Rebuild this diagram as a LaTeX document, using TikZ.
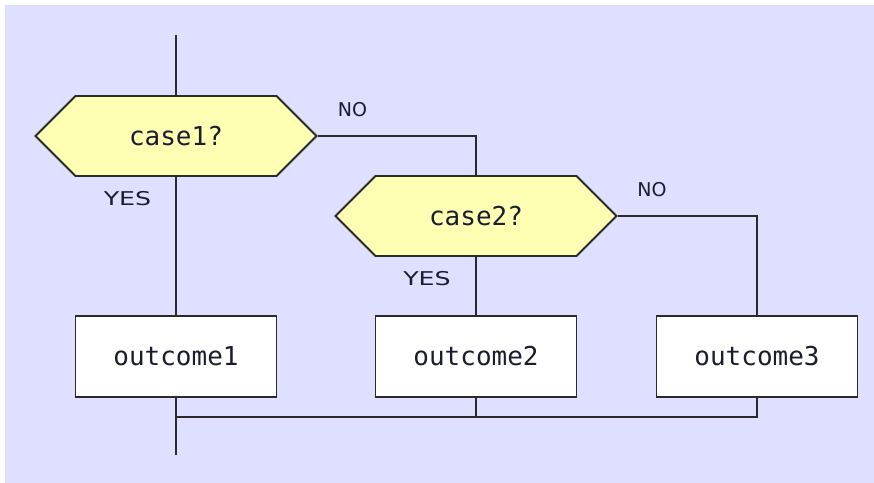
\documentclass[tikz,border=0pt]{standalone}
\usepackage{fontspec}
\usetikzlibrary{shapes.symbols}
\newfontfamily\boxfont{DejaVu Sans Mono}
\newfontfamily\lblfont{DejaVu Sans}
\definecolor{bgc}{HTML}{DFDFFF}
\definecolor{hexfill}{HTML}{FFFFB4}
\definecolor{linec}{HTML}{2A2A2A}
\definecolor{txtc}{HTML}{1C1C30}
\tikzset{
  conn/.style={draw=linec, line width=1.8pt},
  decision/.style={shape=signal, signal to=west and east, signal pointer angle=90,
    draw=linec, line width=1.8pt, fill=hexfill, minimum width=281pt, minimum height=80pt,
    inner sep=0pt, font=\boxfont\fontsize{26}{30}\selectfont, text=txtc},
  outcome/.style={rectangle, draw=linec, line width=1.8pt, fill=white,
    minimum width=201pt, minimum height=81pt, inner sep=0pt,
    font=\boxfont\fontsize{26}{30}\selectfont, text=txtc},
  lbl/.style={font=\lblfont\fontsize{19}{22}\selectfont, text=txtc, inner sep=0pt}
}
\begin{document}
\begin{tikzpicture}[x=1pt,y=-1pt]
\useasboundingbox (0,0) rectangle (874,482);
\fill[white] (-5,-5) rectangle (880,490);
\fill[bgc] (5,5) rectangle (880,490);
\node[decision] (c1) at (176,136) {case1?};
\node[decision] (c2) at (476,216) {case2?};
\node[outcome] (o1) at (176,356.5) {outcome1};
\node[outcome] (o2) at (476,356.5) {outcome2};
\node[outcome] (o3) at (757,356.5) {outcome3};
\coordinate (top) at (176,35);
\coordinate (bot) at (176,455);
\coordinate (merge) at (176,417);
\node[lbl] (yes1) at (127.5,199) {\scalebox{1.33}[1]{YES}};
\node[lbl] (yes2) at (427,279) {\scalebox{1.33}[1]{YES}};
\node[lbl] (no1) at (352.5,110) {NO};
\node[lbl] (no2) at (652,190) {NO};
\draw[conn] (top) -- (c1.north);
\draw[conn] (c1.south) -- (o1.north);
\draw[conn] (c1.east) -| (c2.north);
\draw[conn] (c2.south) -- (o2.north);
\draw[conn] (c2.east) -| (o3.north);
\draw[conn] (o1.south) -- (bot);
\draw[conn] (o3.south) |- (merge);
\draw[conn] (o2.south) -- (o2.south |- merge);
\end{tikzpicture}
\end{document}
